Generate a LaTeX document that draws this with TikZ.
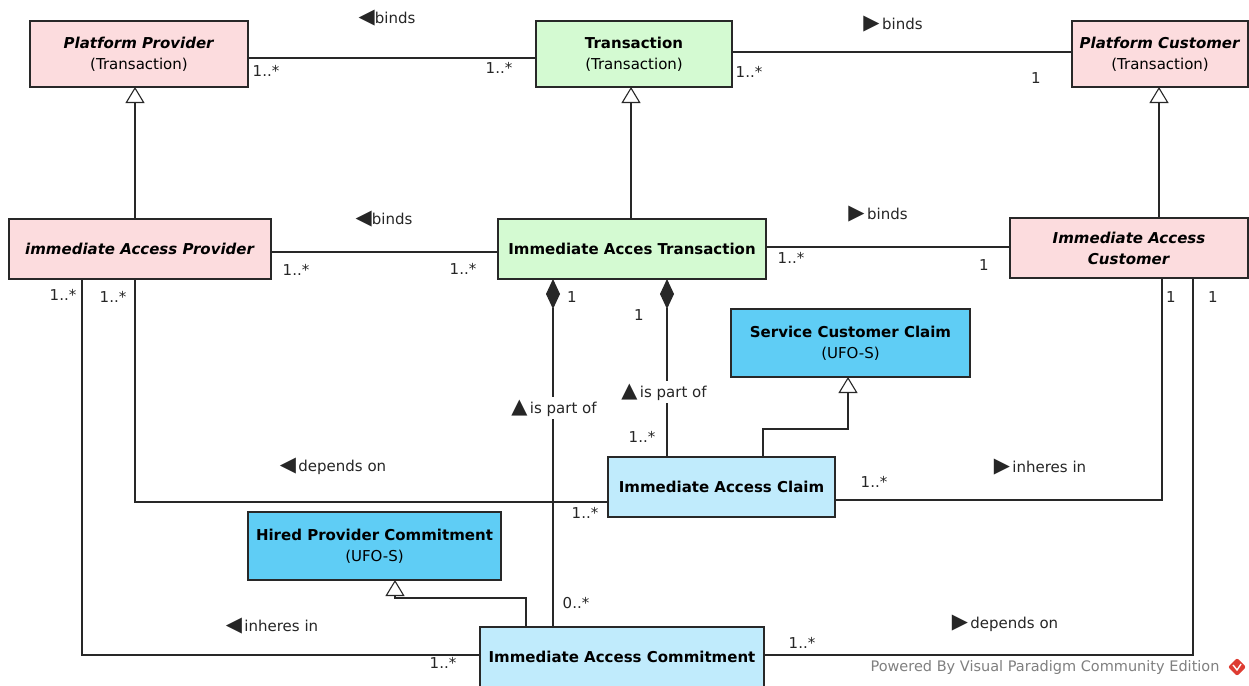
\documentclass[tikz,border=0pt]{standalone}
\usepackage{fontspec}
\setmainfont{DejaVu Sans}
\usetikzlibrary{arrows.meta}

\definecolor{rolepink}{RGB}{252,220,222}
\definecolor{txgreen}{RGB}{212,250,210}
\definecolor{ufoblue}{RGB}{95,205,245}
\definecolor{mlblue}{RGB}{192,235,252}
\definecolor{edge}{RGB}{40,40,40}
\definecolor{vpred}{RGB}{222,60,50}

% direction markers of association names
\newcommand{\dirL}{{\fontsize{21}{21}\selectfont ◀}}
\newcommand{\dirR}{{\fontsize{21}{21}\selectfont ▶}}
\newcommand{\dirU}{{\fontsize{21}{21}\selectfont ▲}}

\begin{document}
\begin{tikzpicture}[x=1pt,y=-1pt,
  every node/.style={font=\fontsize{15}{21}\selectfont},
  cls/.style={draw=edge, line width=1.2pt, inner sep=0pt, outer sep=0pt, align=center},
  pinkbox/.style={cls, fill=rolepink},
  greenbox/.style={cls, fill=txgreen},
  ufobox/.style={cls, fill=ufoblue},
  mlbox/.style={cls, fill=mlblue},
  conn/.style={draw=edge, line width=1.1pt},
  gen/.style={conn, -{Triangle[open, length=16pt, width=19pt]}},
  comp/.style={conn, {Diamond[length=30pt, width=14pt]}-},
  role/.style={inner sep=0pt, text=black!85},
  assoc/.style={inner sep=0pt, text=black!85},
  partof/.style={fill=white, inner sep=3pt, text=black!85}
]
\useasboundingbox (0,0) rectangle (1249,685);
\fill[white] (0,0) rectangle (1249,685);
\clip (0,0) rectangle (1249,685);

% ---------- classes ----------
\node[pinkbox, minimum width=218pt, minimum height=66pt] (pp) at (139,54)
  {\textbf{\textit{Platform Provider}}\\(Transaction)};
\node[greenbox, minimum width=196pt, minimum height=66pt] (tr) at (634,54)
  {\textbf{Transaction}\\(Transaction)};
\node[pinkbox, minimum width=176pt, minimum height=66pt] (pc) at (1160,54)
  {\textbf{\textit{Platform Customer}}\\(Transaction)};

\node[pinkbox, minimum width=262pt, minimum height=60pt] (iap) at (140,249)
  {\textbf{\textit{immediate Access Provider}}};
\node[greenbox, minimum width=268pt, minimum height=60pt] (iat) at (632,249)
  {\textbf{Immediate Acces Transaction}};
\node[pinkbox, minimum width=238pt, minimum height=60pt] (iac) at (1129,248)
  {\textbf{\textit{Immediate Access}}\\\textbf{\textit{Customer}}};

\node[ufobox, minimum width=239pt, minimum height=68pt] (scc) at (850.5,343)
  {\textbf{Service Customer Claim}\\(UFO-S)};
\node[mlbox, minimum width=227pt, minimum height=60pt] (iacl) at (721.5,487)
  {\textbf{Immediate Access Claim}};
\node[ufobox, minimum width=253pt, minimum height=68pt] (hpc) at (374.5,546)
  {\textbf{Hired Provider Commitment}\\(UFO-S)};
\node[mlbox, minimum width=284pt, minimum height=60pt] (iacm) at (622,657)
  {\textbf{Immediate Access Commitment}};

% ---------- generalizations ----------
\draw[gen] ([xshift=-5pt]iap.north) -- ([xshift=-5pt]iap.north |- pp.south);
\draw[gen] ([xshift=-1pt]iat.north) -- ([xshift=-1pt]iat.north |- tr.south);
\draw[gen] ([xshift=30pt]iac.north) -- ([xshift=30pt]iac.north |- pc.south);
\draw[gen] ([xshift=41.5pt]iacl.north) -- ++(0,-28) -| ([xshift=-2.5pt]scc.south);
\draw[gen] ([xshift=-96pt]iacm.north) -- ++(0,-29) -| ([xshift=20.5pt]hpc.south);

% ---------- associations ----------
\draw[conn] ([yshift=-4pt]pp.east) -- ([yshift=-4pt]tr.west);
\draw[conn] ([yshift=2pt]tr.east) -- ([yshift=2pt]pc.west);
\draw[conn] ([yshift=-3pt]iap.east) -- ([yshift=-3pt]iap.east -| iat.west);
\draw[conn] ([yshift=2pt]iat.east) -- ([yshift=2pt]iat.east -| iac.west);
\draw[conn] ([xshift=-5pt]iap.south) |- ([yshift=-15pt]iacl.west);
\draw[conn] ([yshift=-13pt]iacl.east) -| ([xshift=33pt]iac.south);
\draw[conn] ([xshift=-58pt]iap.south) |- ([yshift=2pt]iacm.west);
\draw[conn] ([yshift=2pt]iacm.east) -| ([xshift=64pt]iac.south);

% ---------- compositions ----------
\draw[comp] ([xshift=-79pt]iat.south) -- ([xshift=-79pt]iat.south |- iacm.north);
\draw[comp] ([xshift=35pt]iat.south) -- ([xshift=35pt]iat.south |- iacl.north);

% ---------- association names ----------
\node[assoc] (n1) at (387,18) {\dirL binds};
\node[assoc] (n2) at (893,24) {\dirR\,binds};
\node[assoc] (n3) at (384,219) {\dirL binds};
\node[assoc] (n4) at (878,214) {\dirR\,binds};
\node[assoc] (n5) at (333,466) {\dirL\,depends on};
\node[assoc] (n6) at (1040,467) {\dirR\,inheres in};
\node[assoc] (n7) at (272,626) {\dirL\,inheres in};
\node[assoc] (n8) at (1005,623) {\dirR\,depends on};
\node[partof] (n9) at (554,408) {\dirU\,is part of};
\node[partof] (n10) at (664,392) {\dirU\,is part of};

% ---------- multiplicities ----------
\node[role] (r1) at (266,71) {1..*};
\node[role] (r2) at (499,68) {1..*};
\node[role] (r3) at (749,72) {1..*};
\node[role] (r4) at (1036,78) {1};
\node[role] (r5) at (296,270) {1..*};
\node[role] (r6) at (463,269) {1..*};
\node[role] (r7) at (791,258) {1..*};
\node[role] (r8) at (984,265) {1};
\node[role] (r9) at (63,295) {1..*};
\node[role] (r10) at (113,297) {1..*};
\node[role] (r11) at (1171,297) {1};
\node[role] (r12) at (1213,297) {1};
\node[role] (r13) at (572,297) {1};
\node[role] (r14) at (639,315) {1};
\node[role] (r15) at (642,437) {1..*};
\node[role] (r16) at (585,513) {1..*};
\node[role] (r17) at (874,482) {1..*};
\node[role] (r18) at (576,603) {0..*};
\node[role] (r19) at (443,663) {1..*};
\node[role] (r20) at (802,643) {1..*};

% ---------- footer ----------
\node[font=\fontsize{14.5}{16}\selectfont, text=black!50, inner sep=0pt] (wm) at (1045,667)
  {Powered By Visual Paradigm Community Edition};
\fill[vpred, rounded corners=2pt] (1237,658) -- (1246,667) -- (1237,676) -- (1228,667) -- cycle;
\draw[white, line width=1.4pt] (1233,665) -- (1237,670) -- (1241,664);
\end{tikzpicture}
\end{document}
